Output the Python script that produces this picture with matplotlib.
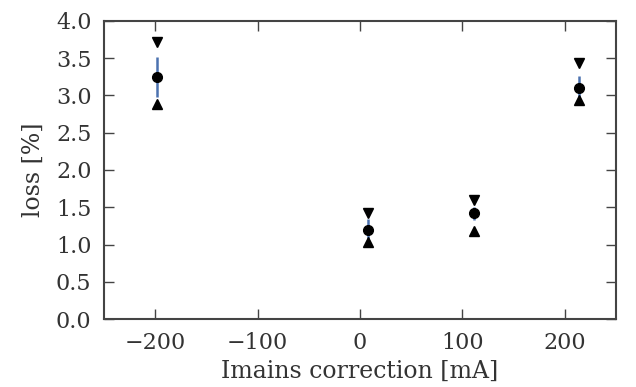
import matplotlib
matplotlib.use('Agg')
import matplotlib.pyplot as plt

# measured current correction [mA] and loss statistics [%]
correction = [-198, 8, 111, 214]
loss_mean = [3.25, 1.20, 1.42, 3.10]
loss_std = [0.27, 0.15, 0.09, 0.16]
loss_max = [3.72, 1.42, 1.60, 3.43]
loss_min = [2.89, 1.04, 1.18, 2.94]

plt.rcParams['font.family'] = 'DejaVu Serif'
plt.rcParams['font.size'] = 15
plt.rcParams['text.color'] = '#333333'
plt.rcParams['axes.labelcolor'] = '#333333'
plt.rcParams['xtick.color'] = '#333333'
plt.rcParams['ytick.color'] = '#333333'

fig = plt.figure(figsize=(6.36, 3.87), dpi=100)
ax = fig.add_axes([0.1635, 0.175, 0.805, 0.7715])

ax.errorbar(correction, loss_mean, yerr=loss_std, fmt='none',
            ecolor='#4C72B0', elinewidth=1.8, capsize=0, zorder=2)
ax.plot(correction, loss_mean, 'o', color='k', markersize=7, zorder=3)
ax.plot(correction, loss_max, 'v', color='k', markersize=7, zorder=3)
ax.plot(correction, loss_min, '^', color='k', markersize=7, zorder=3)

ax.set_xlim(-250, 250)
ax.set_ylim(0, 4)
ax.set_xticks([-200, -100, 0, 100, 200])
ax.set_yticks([0.0, 0.5, 1.0, 1.5, 2.0, 2.5, 3.0, 3.5, 4.0])
ax.set_xlabel('Imains correction [mA]', fontsize=17, labelpad=4)
ax.set_ylabel('loss [%]', fontsize=17, labelpad=8)

for s in ax.spines.values():
    s.set_color('#444444')
    s.set_linewidth(1.5)
ax.tick_params(direction='in', length=7, width=1, color='#444444',
               top=True, right=True, labelsize=16)
ax.tick_params(axis='x', pad=9)
ax.tick_params(axis='y', pad=9)

fig.savefig('out.png', dpi=100)
